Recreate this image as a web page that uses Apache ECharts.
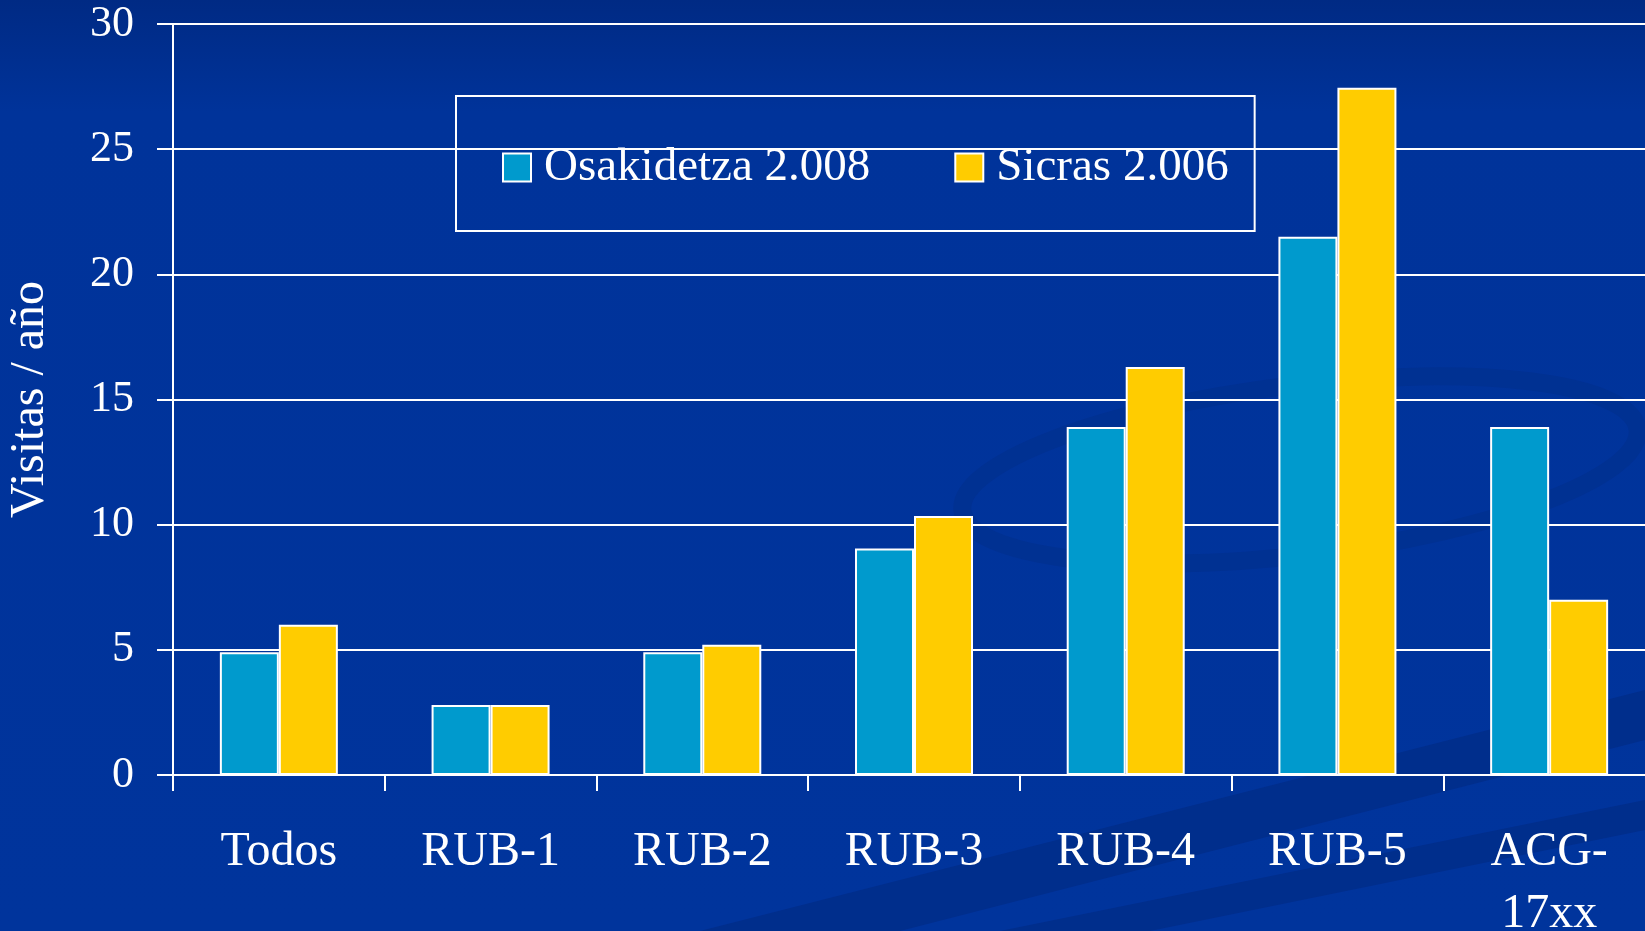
<!DOCTYPE html>
<html>
<head>
<meta charset="utf-8">
<title>Visitas/año</title>
<script src="https://cdn.jsdelivr.net/npm/echarts@6/dist/echarts.min.js"></script>
<style>
  html, body { margin: 0; padding: 0; }
  #chart { width: 1645px; height: 931px; }
</style>
</head>
<body>
<div id="chart"></div>
<script>
var categories = ['Todos', 'RUB-1', 'RUB-2', 'RUB-3', 'RUB-4', 'RUB-5', 'ACG-\n17xx'];
var osakidetza = [4.9, 2.8, 4.9, 9.05, 13.9, 21.5, 13.9];
var sicras = [6.0, 2.8, 5.2, 10.35, 16.3, 27.45, 7.0];
var yTicks = [0, 5, 10, 15, 20, 25, 30];

var font = '"Liberation Serif", "DejaVu Serif", serif';

var chart = echarts.init(document.getElementById('chart'));
chart.setOption({
  backgroundColor: {
    type: 'linear', x: 0, y: 0, x2: 0, y2: 1,
    colorStops: [
      { offset: 0, color: '#002a84' },
      { offset: 0.12, color: '#00339a' },
      { offset: 1, color: '#00349c' }
    ]
  },
  graphic: [
    // faint swooshes in the slide background
    {
      type: 'ellipse', silent: true, z: -10,
      shape: { cx: 1300, cy: 470, rx: 340, ry: 85 },
      rotation: 0.12,
      originX: 1300, originY: 470,
      style: { fill: null, stroke: '#003192', lineWidth: 18 }
    },
    {
      type: 'polygon', silent: true, z: -10,
      shape: { points: [[700, 931], [1645, 690], [1645, 740], [900, 931]] },
      style: { fill: '#002e8c' }
    },
    {
      type: 'polygon', silent: true, z: -10,
      shape: { points: [[1000, 931], [1645, 800], [1645, 830], [1150, 931]] },
      style: { fill: '#002e8c' }
    }
  ],
  legend: {
    left: 456,
    top: 96,
    orient: 'horizontal',
    padding: [48, 26, 40, 46],
    borderColor: '#ffffff',
    borderWidth: 2,
    icon: 'rect',
    itemWidth: 28,
    itemHeight: 28,
    itemGap: 84,
    textStyle: { color: '#ffffff', fontFamily: font, fontSize: 47, padding: [0, 0, 0, 8] },
    data: ['Osakidetza 2.008', 'Sicras 2.006']
  },
  grid: {
    left: 173,
    right: -10,
    top: 24,
    bottom: 156,
    outerBoundsMode: 'none',
    containLabel: false
  },
  xAxis: {
    type: 'category',
    data: categories,
    axisLine: { lineStyle: { color: '#ffffff', width: 2 } },
    axisTick: { show: true, length: 16, lineStyle: { color: '#ffffff', width: 2 } },
    axisLabel: {
      color: '#ffffff', fontFamily: font, fontSize: 48, margin: 46, lineHeight: 62,
      interval: 0
    }
  },
  yAxis: {
    type: 'value',
    min: 0,
    max: 30,
    interval: 5,
    name: 'Visitas / año',
    nameLocation: 'middle',
    nameGap: 119,
    nameTextStyle: { color: '#ffffff', fontFamily: font, fontSize: 48 },
    axisLine: { show: true, lineStyle: { color: '#ffffff', width: 2 } },
    axisTick: { show: true, length: 16, lineStyle: { color: '#ffffff', width: 2 } },
    axisLabel: {
      color: '#ffffff', fontFamily: font, fontSize: 44, margin: 39,
      formatter: function (v) { return yTicks.indexOf(v) >= 0 ? String(v) : ''; }
    },
    splitLine: { show: true, lineStyle: { color: '#ffffff', width: 2 } }
  },
  series: [
    {
      name: 'Osakidetza 2.008',
      type: 'bar',
      data: osakidetza,
      barWidth: 59,
      barGap: '0%',
      itemStyle: { color: '#009acd', borderColor: '#ffffff', borderWidth: 2 }
    },
    {
      name: 'Sicras 2.006',
      type: 'bar',
      data: sicras,
      barWidth: 59,
      barGap: '0%',
      itemStyle: { color: '#ffcc00', borderColor: '#ffffff', borderWidth: 2 }
    }
  ]
});
</script>
</body>
</html>
